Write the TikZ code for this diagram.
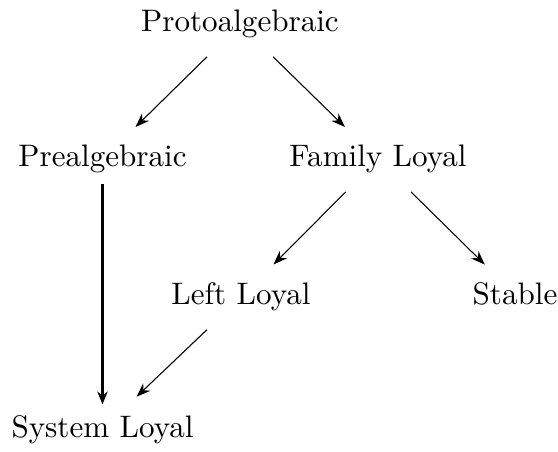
\documentclass[tikz,border=0pt]{standalone}
\usetikzlibrary{arrows.meta}
\begin{document}
\begin{tikzpicture}[x=0.328pt,y=-0.328pt,
  lbl/.style={anchor=base, font=\fontsize{10.2}{12}\selectfont},
  imp/.style={-{Stealth[length=4.6pt,width=3.4pt]}, line width=0.35pt,
              shorten <=3.6pt, shorten >=3.6pt},
  strong/.style={-{Stealth[length=4.2pt,width=3.4pt]}, line width=1.1pt}]
\useasboundingbox (0,0) rectangle (558,452);

% nodes (placed by their baselines)
\node[lbl] (proto)  at (240,32)  {Protoalgebraic};
\node[lbl] (prealg) at (102.5,167) {Prealgebraic};
\node[lbl] (family) at (378,167) {Family Loyal};
\node[lbl] (left)   at (241,305) {Left Loyal};
\node[lbl] (stable) at (515,305) {Stable};
\node[lbl] (system) at (102.5,437) {System Loyal};

% implications
\draw[imp] (proto)  -- (prealg);
\draw[imp] (proto)  -- (family);
\draw[imp] (family) -- (left);
\draw[imp] (family) -- (stable);
\draw[imp] (left)   -- (system);
\draw[strong] (prealg) -- (system);
\end{tikzpicture}
\end{document}
